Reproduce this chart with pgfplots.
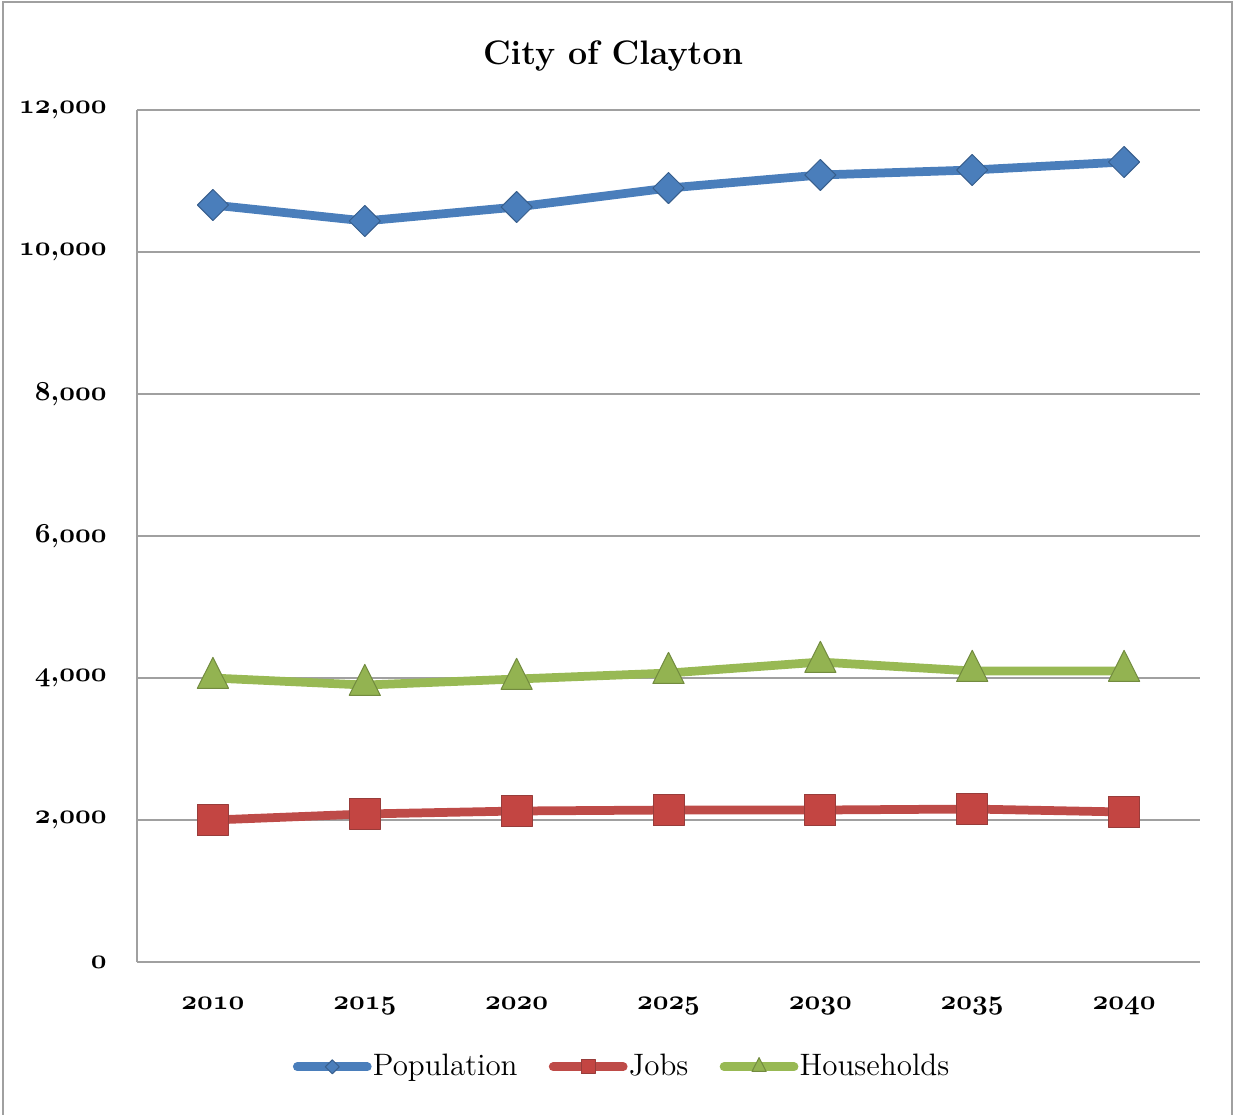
\documentclass[border=0pt]{standalone}
\usepackage{pgfplots}
\pgfplotsset{compat=1.18}
\newcommand\osn[1]{{\usefont{OML}{cmm}{b}{it}#1}}
\newcommand\cmm{{\bfseries,}}
\definecolor{popc}{HTML}{4A7EBB}
\definecolor{jobc}{HTML}{BE4B48}
\definecolor{hhc}{HTML}{98B954}
\definecolor{gridc}{HTML}{A0A0A0}
\begin{document}
\begin{tikzpicture}
\useasboundingbox (0,0) rectangle (494pt,-445.6pt);
\draw[gridc, line width=0.8pt] (1.2pt,-0.8pt) rectangle (492.8pt,-448pt);
\node[font=\fontsize{13.6}{16}\selectfont\bfseries] at (245.2pt,-22.5pt) {City of Clayton};
\begin{axis}[
  at={(54.8pt,-384.8pt)}, anchor=south west,
  scale only axis, width=425.2pt, height=340.8pt,
  xmin=-0.5, xmax=6.5, ymin=0, ymax=12000,
  scaled y ticks=false,
  axis x line*=bottom, axis y line*=left,
  axis line style={gridc, line width=0.8pt, -},
  major tick length=0pt,
  ymajorgrids, grid style={gridc, line width=0.8pt},
  xtick={0,...,6},
  xticklabels={\osn{2010},\osn{2015},\osn{2020},\osn{2025},\osn{2030},\osn{2035},\osn{2040}},
  ytick={0,2000,4000,6000,8000,10000,12000},
  yticklabels={\osn{0},{\osn{2}\cmm\osn{000}},{\osn{4}\cmm\osn{000}},{\osn{6}\cmm\osn{000}},{\osn{8}\cmm\osn{000}},{\osn{10}\cmm\osn{000}},{\osn{12}\cmm\osn{000}}},
  tick label style={font=\fontsize{11}{13}\selectfont},
  xticklabel style={anchor=north, inner sep=0pt, yshift=-14pt},
  yticklabel style={anchor=east, inner sep=0pt, xshift=-12pt},
  line join=round,
  legend columns=3,
  legend style={at={(0.456,-0.123)}, anchor=center, draw=none, fill=none,
    font=\fontsize{12.4}{14}\selectfont,
    nodes={inner xsep=0.5pt},
    /tikz/every even column/.append style={column sep=12pt},
    inner sep=0pt},
  legend cell align=left,
  legend image code/.code={
    \draw[mark repeat=2,mark phase=2,#1,line cap=round,every mark/.append style={scale=0.45}]
      plot coordinates {(0pt,0pt)(14pt,0pt)(28pt,0pt)};},
]
\addplot[popc, line width=3.5pt, mark=square*, mark size=4.4pt,
  mark options={rotate=45, fill=popc, draw=popc!75!black, line width=0.4pt}]
  coordinates {(0,10662)(1,10437)(2,10634)(3,10901)(4,11085)(5,11155)(6,11268)};
\addlegendentry{Population}
\addplot[jobc, line width=3.5pt, mark=square*, mark size=6.2pt,
  mark options={fill=jobc!92!red, draw=jobc!80!black, line width=0.4pt}]
  coordinates {(0,2000)(1,2085)(2,2127)(3,2141)(4,2141)(5,2155)(6,2113)};
\addlegendentry{Jobs}
\addplot[hhc, line width=3.5pt, mark=triangle*, mark size=7.2pt,
  mark options={yscale=1.15, fill=hhc!97!black, draw=hhc!75!black, line width=0.4pt}]
  coordinates {(0,4000)(1,3901)(2,3986)(3,4070)(4,4225)(5,4099)(6,4099)};
\addlegendentry{Households}
\end{axis}
\end{tikzpicture}
\end{document}
